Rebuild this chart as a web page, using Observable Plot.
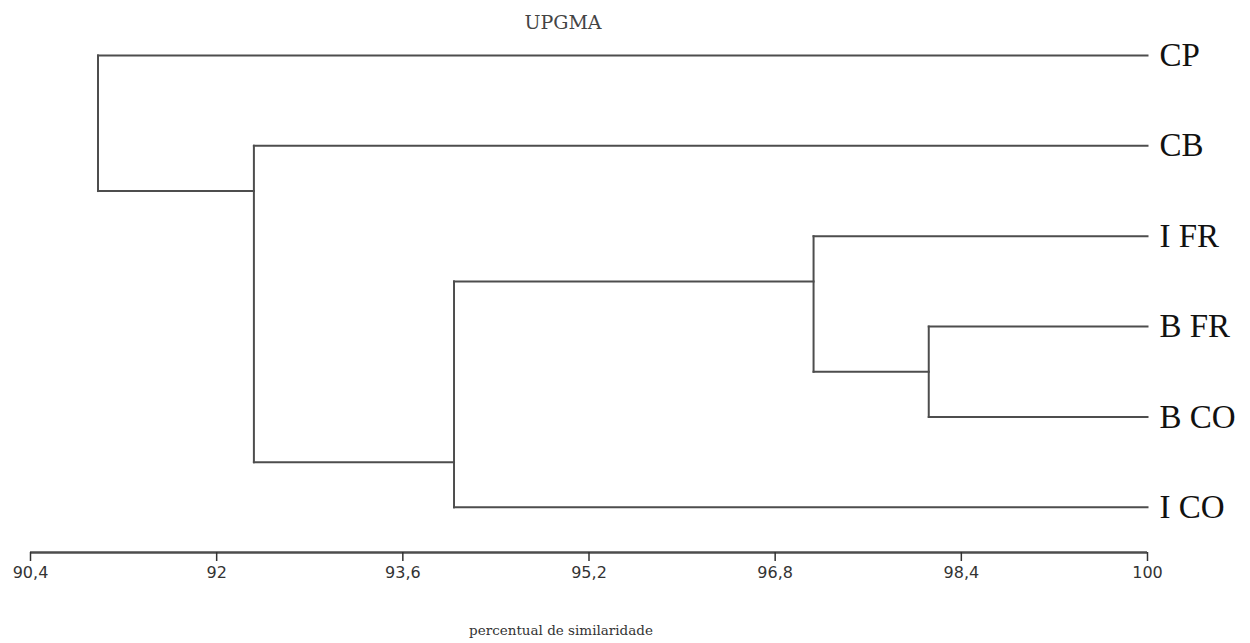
<!DOCTYPE html>
<html>
<head>
<meta charset="utf-8">
<script src="https://cdn.jsdelivr.net/npm/d3@7"></script>
<script src="https://cdn.jsdelivr.net/npm/@observablehq/plot@0.6"></script>
<style>
  html, body { margin: 0; padding: 0; background: #fff; }
</style>
</head>
<body>
<div id="chart"></div>
<script>
// ---- data ----
const title = "UPGMA";
const axisLabel = "percentual de similaridade";
const leafNames = ["CP", "CB", "I FR", "B FR", "B CO", "I CO"];
const mergeName = ["G1", "G2", "G3", "G4", "G5"];
const mergeA    = ["B FR", "I FR", "G2", "CB", "CP"];
const mergeB    = ["B CO", "G1", "I CO", "G3", "G4"];
const mergeSim  = [98.12, 97.13, 94.04, 92.32, 90.98];
const mergeRow  = [3.5, 2.5, 4.5, 1.5, 0.75];
const tickValues = [90.4, 92, 93.6, 95.2, 96.8, 98.4, 100];
const xDomain = [90.4, 100];
const yDomain = [0, leafNames.length - 0.5];

// ---- build tree segments ----
const nodes = new Map();
leafNames.forEach((n, i) => nodes.set(n, {x: xDomain[1], y: i}));
mergeName.forEach((n, i) => nodes.set(n, {x: mergeSim[i], y: mergeRow[i]}));
const segs = [];
mergeName.forEach((n, i) => {
  const a = nodes.get(mergeA[i]), b = nodes.get(mergeB[i]);
  const s = mergeSim[i];
  segs.push({x1: s, y1: a.y, x2: a.x, y2: a.y});
  segs.push({x1: s, y1: b.y, x2: b.x, y2: b.y});
  segs.push({x1: s, y1: a.y, x2: s, y2: b.y});
});
const leafData = leafNames.map((n, i) => ({name: n, x: xDomain[1], y: i}));

const lineColor = "#4d4d4d";

const chart = Plot.plot({
  width: 1250,
  height: 643,
  marginLeft: 30,
  marginRight: 103,
  marginTop: 55,
  marginBottom: 91,
  style: {fontFamily: "DejaVu Sans", background: "#fff"},
  x: {domain: xDomain, axis: null},
  y: {domain: yDomain, reverse: true, axis: null},
  marks: [
    Plot.link(segs, {x1: "x1", y1: "y1", x2: "x2", y2: "y2",
      stroke: lineColor, strokeWidth: 2, strokeLinecap: "square"}),
    Plot.ruleY([yDomain[1]], {x1: xDomain[0], x2: xDomain[1], stroke: lineColor, strokeWidth: 2.5}),
    Plot.axisX({
      anchor: "bottom",
      ticks: tickValues,
      tickFormat: d => String(d).replace(".", ","),
      tickSize: 9,
      tickPadding: 5,
      label: null,
      fontSize: 16,
      color: "#333",
      strokeWidth: 1.5
    }),
    Plot.text(leafData, {x: "x", y: "y", text: "name", dx: 12, textAnchor: "start",
      fontSize: 33, fontFamily: "Liberation Serif", fill: "#111"}),
    Plot.text([title], {frameAnchor: "top", dx: -26, dy: -33, lineAnchor: "middle",
      fontSize: 19, fontFamily: "DejaVu Serif", fill: "#444", letterSpacing: "1.5px"}),
    Plot.text([axisLabel], {frameAnchor: "bottom", dx: -28, dy: 78, lineAnchor: "middle",
      fontSize: 13.5, fontFamily: "DejaVu Serif", fill: "#333"})
  ]
});
document.getElementById("chart").appendChild(chart);
</script>
</body>
</html>
